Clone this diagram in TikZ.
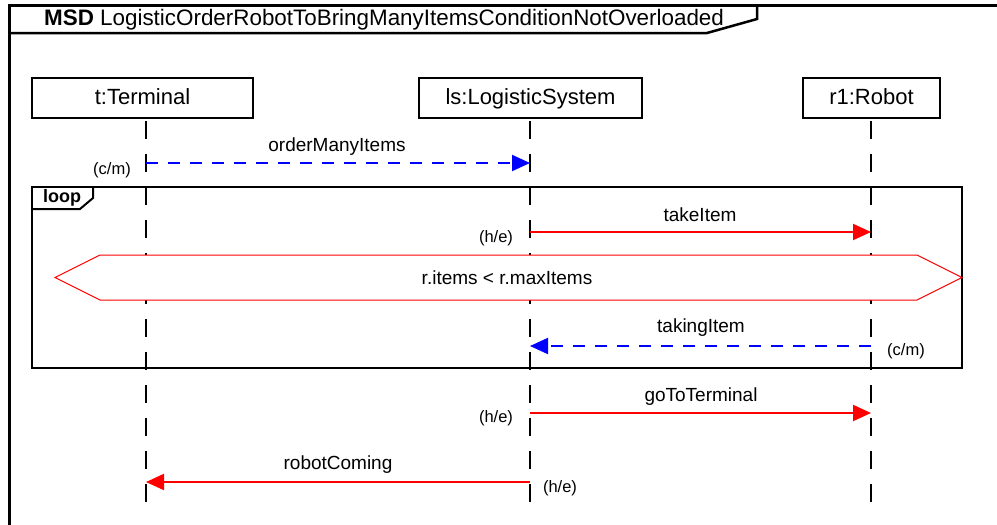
\documentclass[tikz,border=0pt]{standalone}
\usepackage{fontspec}
\setmainfont{Liberation Sans}
\usetikzlibrary{arrows.meta}
\begin{document}
\begin{tikzpicture}[x=1pt,y=-1pt,
  head/.style={draw,line width=2pt,minimum height=40pt,inner sep=0pt,fill=white,
    text height=16pt,text depth=4pt,font=\fontsize{22}{25}\selectfont},
  lifeline/.style={line width=2pt,dash pattern=on 18pt off 15pt,dash phase=30pt},
  call/.style={red,line width=2pt,-{Triangle[length=18pt,width=16pt]}},
  reply/.style={blue,line width=2pt,dash pattern=on 12pt off 10pt,
    -{Triangle[length=18pt,width=16pt]}},
  msglabel/.style={inner sep=0pt,font=\fontsize{19}{22}\selectfont},
  tag/.style={inner sep=0pt,font=\fontsize{16.5}{19}\selectfont},
  framebox/.style={line width=3pt},
  fragbox/.style={line width=2pt},
]
\useasboundingbox (0,0) rectangle (997,525);
\clip (0,0) rectangle (997,525);

% outer MSD frame and its title tab
\draw[framebox] (9.5,5.5) rectangle (1020,560);
\draw[line width=2.5pt] (9.5,33) -- (707,33) -- (757,19) -- (757,5.5);
\node[anchor=west,inner sep=0pt,text height=16pt,text depth=4pt,
  font=\fontsize{22.4}{25}\selectfont] (title) at (44,19.5)
  {\textbf{MSD} LogisticOrderRobotToBringManyItemsConditionNotOverloaded};

% loop fragment
\draw[fragbox] (32,187) rectangle (962,368);
\draw[fragbox] (32,209) -- (80,209) -- (93,198) -- (93,187);
\node[inner sep=0pt,font=\bfseries\fontsize{18}{21}\selectfont] (looplbl) at (62,198) {loop};

% lifeline heads
\node[head,minimum width=221pt] (t) at (142.5,98) {t:Terminal};
\node[head,minimum width=223pt] (ls) at (530.5,98) {ls:LogisticSystem};
\node[head,minimum width=137pt] (r1) at (871.5,98) {r1:Robot};

% lifelines
\coordinate (tTop) at (146,118);   \coordinate (tEnd) at (146,506);
\coordinate (lsTop) at (530,118);  \coordinate (lsEnd) at (530,506);
\coordinate (rTop) at (871,118);   \coordinate (rEnd) at (871,506);
\draw[lifeline] (tTop) -- (tEnd);
\draw[lifeline] (lsTop) -- (lsEnd);
\draw[lifeline] (rTop) -- (rEnd);

% message end points on the lifelines
\coordinate (t1) at (146,163);  \coordinate (ls1) at (530,163);
\coordinate (ls2) at (530,232); \coordinate (r2) at (871,232);
\coordinate (r3) at (871,346);  \coordinate (ls3) at (530,346);
\coordinate (ls4) at (530,413); \coordinate (r4) at (871,413);
\coordinate (ls5) at (530,482); \coordinate (t5) at (146,482);

% messages
\draw[reply] (t1) -- (ls1);
\node[msglabel] (m1) at (337,146.5) {orderManyItems};
\node[tag] (k1) at (112,170) {(c/m)};

\draw[call] (ls2) -- (r2);
\node[msglabel] (m2) at (700,214.5) {takeItem};
\node[tag] (k2) at (496,238) {(h/e)};

% loop condition
\draw[red,line width=1pt,fill=white] (55,277.5) -- (100,255) -- (917,255) -- (962,277.5)
  -- (917,300) -- (100,300) -- cycle;
\node[msglabel] (cond) at (507,278) {r.items < r.maxItems};

\draw[reply] (r3) -- (ls3);
\node[msglabel] (m3) at (701,327.5) {takingItem};
\node[tag] (k3) at (906,351) {(c/m)};

\draw[call] (ls4) -- (r4);
\node[msglabel] (m4) at (701,396.5) {goToTerminal};
\node[tag] (k4) at (496,418) {(h/e)};

\draw[call] (ls5) -- (t5);
\node[msglabel] (m5) at (338,464.5) {robotComing};
\node[tag] (k5) at (560,488) {(h/e)};
\end{tikzpicture}
\end{document}
